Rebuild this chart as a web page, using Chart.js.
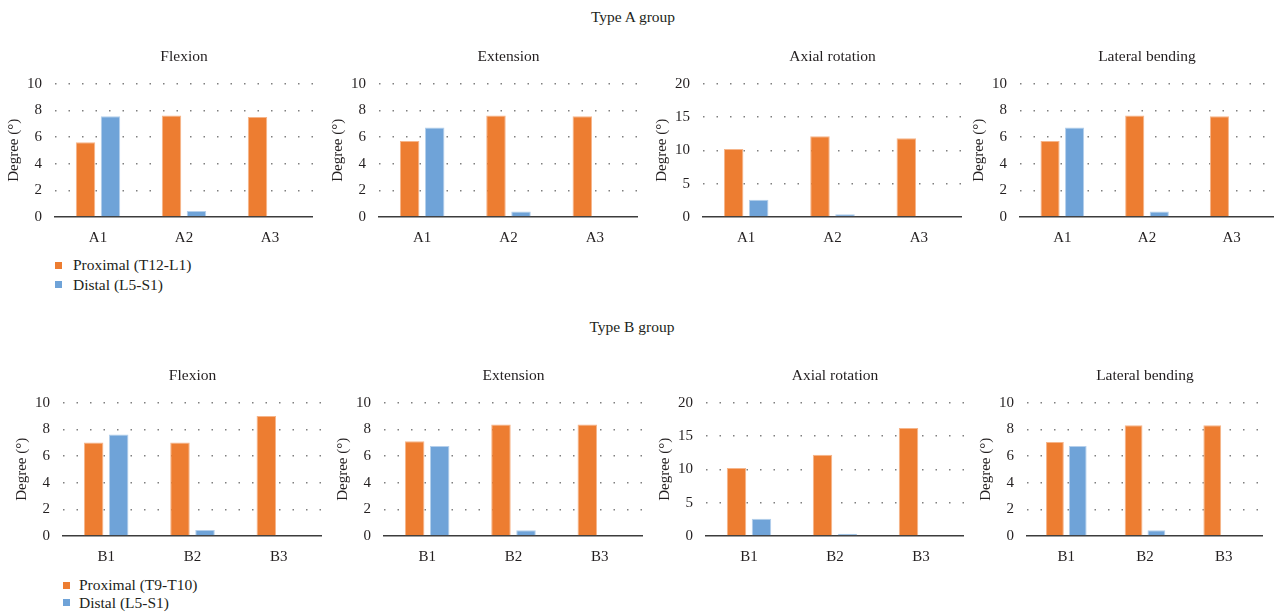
<!DOCTYPE html>
<html>
<head>
<meta charset="utf-8">
<script src="https://cdn.jsdelivr.net/npm/chart.js@4.4.1/dist/chart.umd.min.js"></script>
<style>
  html, body { margin:0; padding:0; background:#fff; }
  body { width:1280px; height:615px; position:relative; overflow:hidden;
         font-family:'Liberation Serif','DejaVu Serif',serif; color:#231f20; }
  canvas { position:absolute; }
  .gtitle { position:absolute; font-size:15.5px; width:300px; text-align:center; line-height:20px; }
  .leg { position:absolute; font-size:15.5px; line-height:18px; white-space:nowrap; }
  .sq { position:absolute; width:7px; height:7px; }
</style>
</head>
<body>
<div class="gtitle" style="left:483px; top:7px;">Type A group</div>
<div class="gtitle" style="left:482px; top:317px;">Type B group</div>

<div class="sq" style="left:55px; top:262px; background:#ED7D31;"></div>
<div class="leg" style="left:73px; top:256px;">Proximal (T12-L1)</div>
<div class="sq" style="left:55px; top:281px; background:#6FA3D8;"></div>
<div class="leg" style="left:73px; top:276px;">Distal (L5-S1)</div>

<div class="sq" style="left:63px; top:582px; background:#ED7D31;"></div>
<div class="leg" style="left:79px; top:576px;">Proximal (T9-T10)</div>
<div class="sq" style="left:63px; top:599px; background:#6FA3D8;"></div>
<div class="leg" style="left:79px; top:594px;">Distal (L5-S1)</div>

<canvas id="fa"></canvas><canvas id="ea"></canvas><canvas id="xa"></canvas><canvas id="la"></canvas>
<canvas id="fb"></canvas><canvas id="eb"></canvas><canvas id="xb"></canvas><canvas id="lb"></canvas>

<script>
// ---- data ----
const categoriesA = ['A1', 'A2', 'A3'];
const categoriesB = ['B1', 'B2', 'B3'];
const seriesNamesA = ['Proximal (T12-L1)', 'Distal (L5-S1)'];
const seriesNamesB = ['Proximal (T9-T10)', 'Distal (L5-S1)'];
const panelTitles = ['Flexion', 'Extension', 'Axial rotation', 'Lateral bending'];
const yAxisTitle = 'Degree (°)';

const flexionA_proximal = [5.6, 7.6, 7.5];
const flexionA_distal   = [7.55, 0.45, 0];
const extensionA_proximal = [5.7, 7.6, 7.55];
const extensionA_distal   = [6.7, 0.42, 0];
const axialA_proximal = [10.2, 12.1, 11.8];
const axialA_distal   = [2.6, 0.4, 0];
const lateralA_proximal = [5.7, 7.6, 7.55];
const lateralA_distal   = [6.7, 0.42, 0];

const flexionB_proximal = [7.0, 7.0, 9.0];
const flexionB_distal   = [7.6, 0.45, 0];
const extensionB_proximal = [7.1, 8.35, 8.35];
const extensionB_distal   = [6.75, 0.43, 0];
const axialB_proximal = [10.2, 12.2, 16.2];
const axialB_distal   = [2.6, 0.35, 0];
const lateralB_proximal = [7.05, 8.3, 8.3];
const lateralB_distal   = [6.75, 0.43, 0];

const yMaxSmall = 10, yStepSmall = 2;
const yMaxAxial = 20, yStepAxial = 5;

// ---- drawing ----
Chart.defaults.font.family = "'Liberation Serif','DejaVu Serif',serif";
Chart.defaults.color = '#231f20';

const ORANGE = '#ED7D31', BLUE = '#6FA3D8';
const ORANGE_EDGE = '#F6B58A', BLUE_EDGE = '#B4CFEC';
const Y_W = 55, X_H = 35;

function makeChart(id, opt) {
  const cv = document.getElementById(id);
  const w = opt.right - opt.left + Y_W;
  const h = 212;
  cv.width = w; cv.height = h;
  cv.style.left = (opt.left - Y_W) + 'px';
  cv.style.top = opt.top + 'px';
  cv.style.width = w + 'px'; cv.style.height = h + 'px';
  new Chart(cv, {
    type: 'bar',
    data: {
      labels: opt.labels,
      datasets: [
        { label: opt.names[0], data: opt.prox, backgroundColor: ORANGE, borderColor: ORANGE_EDGE,
          borderWidth: 1, borderSkipped: 'start' },
        { label: opt.names[1], data: opt.dist, backgroundColor: BLUE, borderColor: BLUE_EDGE,
          borderWidth: 1, borderSkipped: 'start' }
      ]
    },
    options: {
      responsive: false, animation: false, devicePixelRatio: 1,
      layout: { padding: 0 },
      datasets: { bar: { categoryPercentage: 0.58, barPercentage: 0.78 } },
      plugins: {
        legend: { display: false },
        tooltip: { enabled: false },
        title: { display: true, fullSize: false, text: opt.title, font: { size: 15.5, weight: 'normal' },
                 color: '#231f20', padding: { top: 8, bottom: 17 } }
      },
      scales: {
        x: {
          grid: { display: false, drawTicks: false },
          border: { display: true, color: '#3c3c3c', width: 1.5 },
          ticks: { font: { size: 15 }, padding: 12, color: '#231f20' },
          afterFit: s => { s.height = X_H; }
        },
        y: {
          min: 0, max: opt.max,
          ticks: { stepSize: opt.step, font: { size: 15 }, padding: 13, color: '#231f20' },
          grid: { drawTicks: false, lineWidth: 1.5,
                  color: c => (c.tick && c.tick.value === 0) ? 'rgba(0,0,0,0)' : '#7f7f7f' },
          border: { display: false, dash: [1.5, 12] },
          title: { display: true, text: yAxisTitle, font: { size: 15 }, color: '#231f20',
                   padding: { top: 5, bottom: 0 } },
          afterFit: s => { s.width = Y_W; }
        }
      }
    }
  });
}

const TOP_A = 40, TOP_B = 359;
makeChart('fa', { left: 55,   right: 313,  top: TOP_A, labels: categoriesA, names: seriesNamesA, title: panelTitles[0], prox: flexionA_proximal,   dist: flexionA_distal,   max: yMaxSmall, step: yStepSmall });
makeChart('ea', { left: 379,  right: 638,  top: TOP_A, labels: categoriesA, names: seriesNamesA, title: panelTitles[1], prox: extensionA_proximal, dist: extensionA_distal, max: yMaxSmall, step: yStepSmall });
makeChart('xa', { left: 703,  right: 962,  top: TOP_A, labels: categoriesA, names: seriesNamesA, title: panelTitles[2], prox: axialA_proximal,     dist: axialA_distal,     max: yMaxAxial, step: yStepAxial });
makeChart('la', { left: 1020, right: 1274, top: TOP_A, labels: categoriesA, names: seriesNamesA, title: panelTitles[3], prox: lateralA_proximal,   dist: lateralA_distal,   max: yMaxSmall, step: yStepSmall });

makeChart('fb', { left: 63,   right: 322,  top: TOP_B, labels: categoriesB, names: seriesNamesB, title: panelTitles[0], prox: flexionB_proximal,   dist: flexionB_distal,   max: yMaxSmall, step: yStepSmall });
makeChart('eb', { left: 384,  right: 643,  top: TOP_B, labels: categoriesB, names: seriesNamesB, title: panelTitles[1], prox: extensionB_proximal, dist: extensionB_distal, max: yMaxSmall, step: yStepSmall });
makeChart('xb', { left: 706,  right: 964,  top: TOP_B, labels: categoriesB, names: seriesNamesB, title: panelTitles[2], prox: axialB_proximal,     dist: axialB_distal,     max: yMaxAxial, step: yStepAxial });
makeChart('lb', { left: 1027, right: 1263, top: TOP_B, labels: categoriesB, names: seriesNamesB, title: panelTitles[3], prox: lateralB_proximal,   dist: lateralB_distal,   max: yMaxSmall, step: yStepSmall });
</script>
</body>
</html>
